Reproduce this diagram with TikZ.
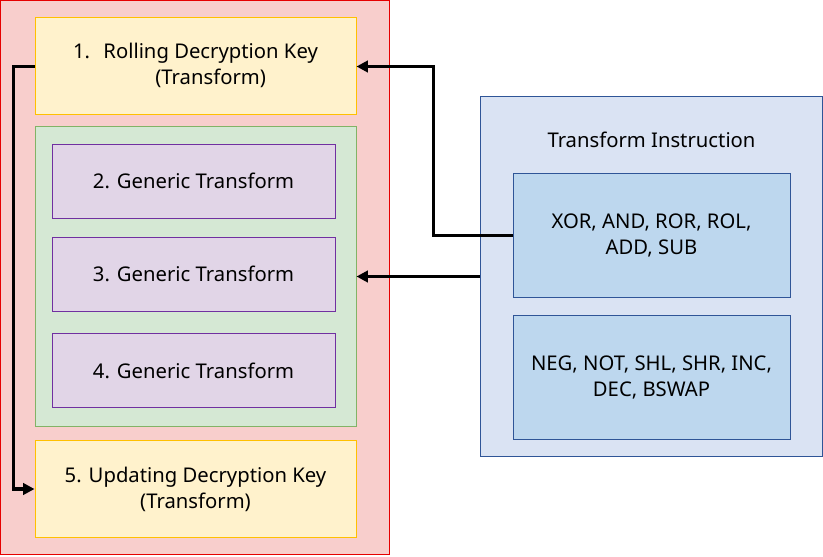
\documentclass[tikz,border=0pt]{standalone}
\usepackage{fontspec}
\setmainfont{Noto Sans}
\usetikzlibrary{arrows.meta}

\definecolor{punainen}{RGB}{248,206,204}
\definecolor{punareuna}{RGB}{230,0,0}
\definecolor{keltainen}{RGB}{255,242,204}
\definecolor{keltareuna}{RGB}{255,192,0}
\definecolor{vihrea}{RGB}{213,232,212}
\definecolor{vihreareuna}{RGB}{130,179,102}
\definecolor{violetti}{RGB}{225,213,231}
\definecolor{violettireuna}{RGB}{112,48,160}
\definecolor{sininen}{RGB}{218,227,243}
\definecolor{sininen2}{RGB}{189,215,238}
\definecolor{sinireuna}{RGB}{47,85,151}

\begin{document}
\begin{tikzpicture}[x=0.75pt, y=-0.75pt,
	box/.style = {draw, rectangle, inner sep=0pt, line width=0.75pt, align=center, font=\fontsize{15.2}{19.5}\selectfont},
	keybox/.style = {box, fill=keltainen, draw=keltareuna, minimum width=321*0.75pt, minimum height=97*0.75pt},
	genbox/.style = {box, fill=violetti, draw=violettireuna, minimum width=283*0.75pt, minimum height=74*0.75pt},
	opbox/.style = {box, fill=sininen2, draw=sinireuna, minimum width=277*0.75pt, minimum height=124*0.75pt},
	arr/.style = {line width=2.4pt, -{Triangle[length=8.5pt, width=8.5pt]}}]
		\useasboundingbox (0,0) rectangle (823,556);
		% Laatikot
		\node[box, fill=punainen, draw=punareuna, minimum width=389*0.75pt, minimum height=554*0.75pt] (outer) at (195,277.5) {};
		\node[keybox] (key1) at (195.5,66.5) {\begin{tabular}{@{}l@{\hspace{10pt}}c@{}}1. & Rolling Decryption Key\\ & (Transform)\end{tabular}};
		\node[box, fill=vihrea, draw=vihreareuna, minimum width=321*0.75pt, minimum height=299*0.75pt] (group) at (195.5,276.5) {};
		\node[genbox] (gen2) at (193.5,181) {2. Generic Transform};
		\node[genbox] (gen3) at (193.5,274) {3. Generic Transform};
		\node[genbox] (gen4) at (193.5,370.5) {4. Generic Transform};
		\node[keybox] (key5) at (195.5,489) {5. Updating Decryption Key\\(Transform)};
		\node[box, fill=sininen, draw=sinireuna, minimum width=342*0.75pt, minimum height=360*0.75pt] (instr) at (651,276.5) {};
		\node[font=\fontsize{15.2}{19.5}\selectfont] (title) at (651.5,140) {Transform Instruction};
		\node[opbox] (opsA) at (651.5,235.5) {XOR, AND, ROR, ROL,\\ADD, SUB};
		\node[opbox] (opsB) at (651.5,377.5) {NEG, NOT, SHL, SHR, INC,\\DEC, BSWAP};
		% Nuolet
		\draw[arr] (key1.west) -- ++(-21,0) |- (key5.west);	% 1 -> 5
		\draw[arr] (opsA.west) -- ++(-79,0) |- (key1.east);	% ops -> 1
		\draw[arr] (instr.west) -- (group.east);		% instr -> 2..4
\end{tikzpicture}
\end{document}
